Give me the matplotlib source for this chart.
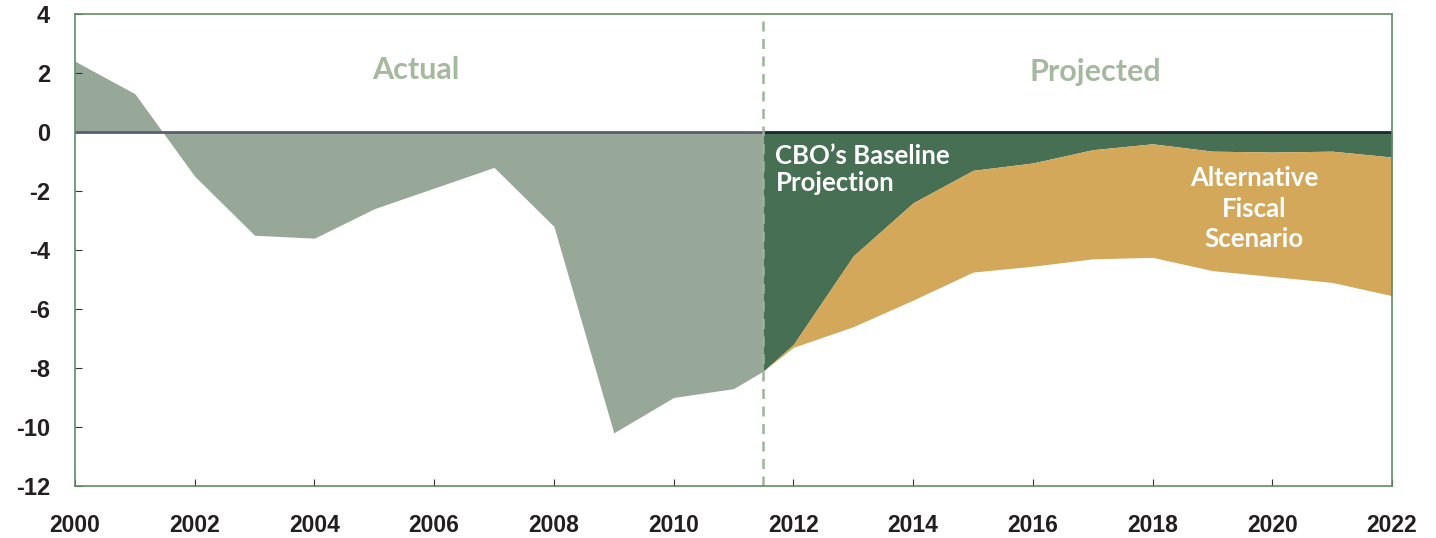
import matplotlib.pyplot as plt

# percent of GDP
actual_years = [2000, 2001, 2002, 2003, 2004, 2005, 2006, 2007, 2008, 2009, 2010, 2011, 2011.5]
actual_vals = [2.4, 1.3, -1.5, -3.5, -3.6, -2.6, -1.9, -1.2, -3.2, -10.2, -9.0, -8.7, -8.1]

proj_years = [2011.5, 2012, 2013, 2014, 2015, 2016, 2017, 2018, 2019, 2020, 2021, 2022]
baseline = [-8.1, -7.2, -4.2, -2.4, -1.3, -1.05, -0.6, -0.4, -0.65, -0.68, -0.65, -0.85]
alternative = [-8.1, -7.3, -6.6, -5.7, -4.75, -4.55, -4.3, -4.25, -4.7, -4.9, -5.1, -5.55]

split_year = 2011.5
xticks = list(range(2000, 2023, 2))
yticks = list(range(-12, 5, 2))

c_actual = "#98a898"
c_base = "#476f53"
c_alt = "#d4a85b"
c_label = "#a5b99f"
c_spine = "#5f8c63"

plt.rcParams['font.family'] = ['Liberation Sans', 'DejaVu Sans']
plt.rcParams['axes.unicode_minus'] = False

fig = plt.figure(figsize=(14.36, 5.38), dpi=100)
ax = fig.add_axes([0.0522, 0.0967, 0.9172, 0.8773])

ax.fill_between(actual_years, 0, actual_vals, color=c_actual, linewidth=0)
ax.fill_between(proj_years, 0, baseline, color=c_base, linewidth=0)
ax.fill_between(proj_years, baseline, alternative, color=c_alt, linewidth=0)

ax.plot([2000, split_year], [0, 0], color="#5b5d6e", linewidth=2)
ax.plot([split_year, 2022], [0, 0], color="#1b2631", linewidth=2)
ax.axvline(split_year, color="#9ab59a", linestyle=(0, (4, 3)), linewidth=1.8)

ax.set_xlim(2000, 2022)
ax.set_ylim(-12, 4)
ax.set_xticks(xticks)
ax.set_yticks(yticks)
ax.tick_params(axis='x', direction='in', length=5, color='#333333', pad=20, labelsize=16.5)
ax.tick_params(axis='y', direction='in', length=5, color='#333333', pad=18, labelsize=17)
for lab in ax.get_xticklabels() + ax.get_yticklabels():
    lab.set_fontweight('bold')
    lab.set_color('#231f20')
for s in ax.spines.values():
    s.set_color(c_spine)
    s.set_linewidth(1.2)

lbl = ['Lato', 'DejaVu Sans']
ax.text(2005.7, 2.1, "Actual", color=c_label, fontsize=22, fontweight='bold',
        ha='center', va='center', family=lbl)
ax.text(2017.05, 2.05, "Projected", color=c_label, fontsize=22, fontweight='bold',
        ha='center', va='center', family=lbl)
ax.text(2011.7, -0.4, "CBO\u2019s Baseline\nProjection", color='white', fontsize=18.5,
        fontweight='bold', ha='left', va='top', linespacing=1.15, family=lbl)
ax.text(2019.7, -1.15, "Alternative\nFiscal\nScenario", color='white', fontsize=18.5,
        fontweight='bold', ha='center', va='top', linespacing=1.33, family=lbl)

fig.savefig("out.png", dpi=100)
